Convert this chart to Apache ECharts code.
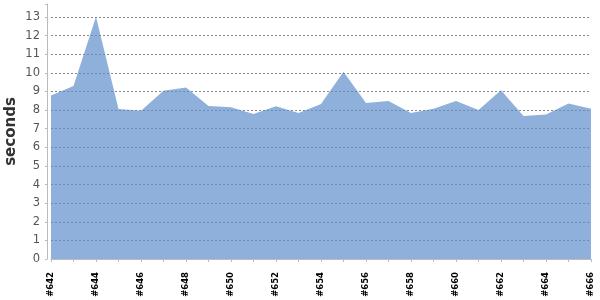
<!DOCTYPE html>
<html>
<head>
<meta charset="utf-8">
<script src="https://cdn.jsdelivr.net/npm/echarts@6/dist/echarts.min.js"></script>
<style>html,body{margin:0;padding:0;background:#fff}#c{width:600px;height:300px}</style>
</head>
<body>
<div id="c"></div>
<script>
var categories = ['#642','#643','#644','#645','#646','#647','#648','#649','#650','#651','#652','#653','#654','#655','#656','#657','#658','#659','#660','#661','#662','#663','#664','#665','#666'];
var seconds = [8.78, 9.3, 13.02, 8.06, 7.97, 9.04, 9.22, 8.22, 8.15, 7.79, 8.2, 7.84, 8.33, 10.06, 8.38, 8.49, 7.84, 8.07, 8.49, 8.0, 9.06, 7.68, 7.77, 8.36, 8.07];
var yTicks = [0,1,2,3,4,5,6,7,8,9,10,11,12,13];

var chart = echarts.init(document.getElementById('c'), null, {renderer: 'canvas'});
chart.setOption({
  animation: false,
  grid: {left: 51, right: 9, top: 4, bottom: 41, containLabel: false, outerBoundsMode: 'none'},
  xAxis: {
    type: 'category',
    data: categories,
    boundaryGap: false,
    offset: 4,
    axisLine: {lineStyle: {color: '#bbb'}},
    axisTick: {show: true, length: 3, interval: 0, lineStyle: {color: '#bbb'}},
    axisLabel: {
      rotate: 90, interval: 1, margin: 9,
      color: '#000', fontFamily: 'DejaVu Sans', fontSize: 8.5, fontWeight: 'bold'
    },
    splitLine: {show: false}
  },
  yAxis: {
    type: 'value',
    min: 0, max: 13.7, interval: 1,
    offset: 4,
    name: 'seconds',
    nameLocation: 'middle',
    nameGap: 28,
    nameMoveOverlap: false,
    nameTextStyle: {color: '#333', fontFamily: 'DejaVu Sans', fontSize: 15, fontWeight: 'bold'},
    axisLine: {show: true, lineStyle: {color: '#bbb'}},
    axisTick: {show: true, length: 2, lineStyle: {color: '#bbb'}},
    axisLabel: {
      margin: 7, color: '#555', fontFamily: 'DejaVu Sans', fontSize: 11.5,
      formatter: function (v) { return yTicks.indexOf(v) >= 0 ? String(v) : ''; }
    },
    splitLine: {show: true, showMaxLine: false, lineStyle: {color: '#888', type: [2, 2], width: 1}}
  },
  series: [{
    type: 'line',
    data: seconds,
    symbol: 'none',
    lineStyle: {width: 0},
    areaStyle: {color: 'rgba(94,142,202,0.7)', opacity: 1}
  }]
});
</script>
</body>
</html>
